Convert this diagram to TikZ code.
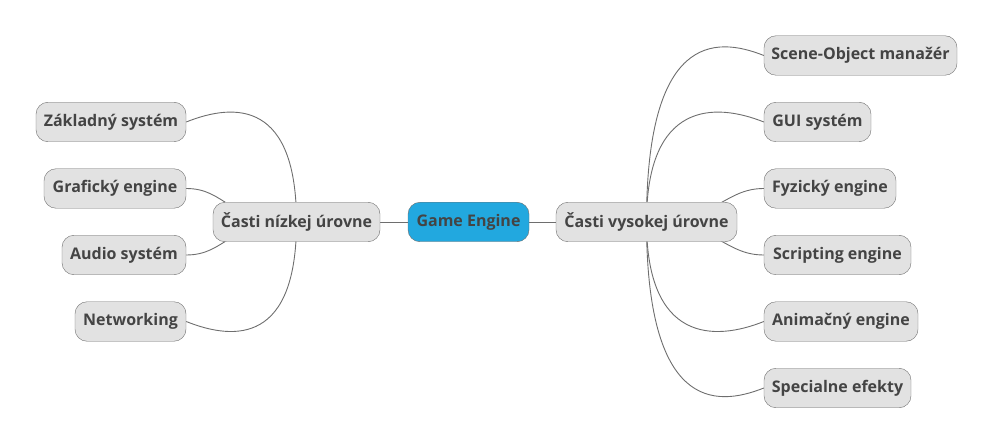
\documentclass[tikz,border=0pt]{standalone}
\usepackage{fontspec}
\setmainfont{Open Sans}
\usetikzlibrary{backgrounds}

\definecolor{boxfill}{HTML}{E2E2E2}
\definecolor{boxline}{HTML}{6E6E6E}
\definecolor{rootfill}{HTML}{22A8DF}
\definecolor{txt}{HTML}{444444}

\tikzset{
  topic/.style={draw=boxline, fill=boxfill, rounded corners=12pt, minimum height=39.5pt,
    inner sep=0pt, text=txt, font=\fontsize{16}{18}\selectfont\bfseries},
  root/.style={topic, fill=rootfill},
  link/.style={draw=boxline, line width=0.9pt}
}

\begin{document}
\begin{tikzpicture}[x=1pt,y=-1pt]
\useasboundingbox (0,0) rectangle (995,446);
% center and the two halves
\node[root, minimum width=121pt] (game) at (468.5,222) {Game Engine};
\node[topic, minimum width=167pt] (low) at (296.5,222) {Časti nízkej úrovne};
\node[topic, minimum width=181pt] (high) at (646.5,222) {Časti vysokej úrovne};
% left side
\node[topic, minimum width=150pt] (zakl) at (111,122) {Základný systém};
\node[topic, minimum width=142pt] (graf) at (115,188.5) {Grafický engine};
\node[topic, minimum width=124pt] (audio) at (124,255) {Audio systém};
\node[topic, minimum width=111pt] (net) at (130.5,321.5) {Networking};
% right side
\node[topic, minimum width=193pt] (scene) at (860.5,55.5) {Scene-Object manažér};
\node[topic, minimum width=107pt] (gui) at (817.5,122) {GUI systém};
\node[topic, minimum width=132pt] (fyz) at (830,188.5) {Fyzický engine};
\node[topic, minimum width=147pt] (scr) at (837.5,255) {Scripting engine};
\node[topic, minimum width=154pt] (anim) at (841,321.5) {Animačný engine};
\node[topic, minimum width=147pt] (spec) at (837.5,388) {Specialne efekty};

\begin{scope}[on background layer]
\draw[link] (game) -- (low);
\draw[link] (game) -- (high);
\draw[link] (low.center) .. controls +(0,-120) and +(50,-20) .. (zakl.east);
\draw[link] (graf.east) .. controls +(40,0) and +(-70,0) .. (low.center);
\draw[link] (audio.east) .. controls +(40,0) and +(-70,0) .. (low.center);
\draw[link] (low.center) .. controls +(0,120) and +(50,20) .. (net.east);
\draw[link] (high.center) .. controls +(0,-186.5) and +(-50,-20) .. (scene.west);
\draw[link] (high.center) .. controls +(0,-120) and +(-50,-20) .. (gui.west);
\draw[link] (fyz.west) .. controls +(-40,0) and +(70,0) .. (high.center);
\draw[link] (scr.west) .. controls +(-40,0) and +(70,0) .. (high.center);
\draw[link] (high.center) .. controls +(0,120) and +(-50,20) .. (anim.west);
\draw[link] (high.center) .. controls +(0,186) and +(-50,20) .. (spec.west);
\end{scope}
\end{tikzpicture}
\end{document}
